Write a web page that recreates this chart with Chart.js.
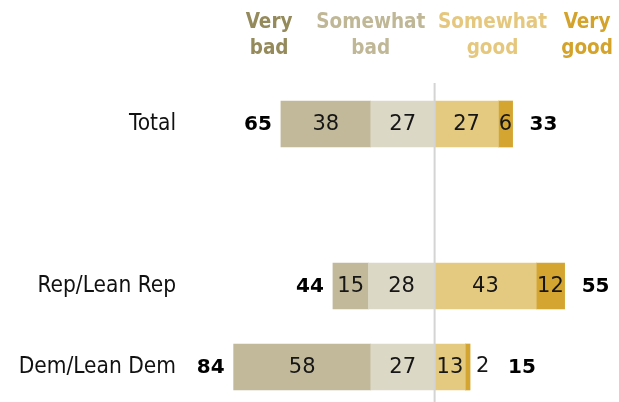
<!DOCTYPE html>
<html lang="en">
<head>
  <meta charset="UTF-8">
  <title>Economic ratings by party</title>
  <script src="https://cdn.jsdelivr.net/npm/chart.js"></script>
  <style>
    body { margin: 0; background: #fff; }
    .chart-container { width: 619px; height: 402px; position: relative; }
  </style>
</head>
<body>
  <div class="chart-container">
    <canvas id="ratingChart"></canvas>
  </div>

  <script>
    // categories (blank row = spacer between Total and party rows)
    const categories = ['Total', '', 'Rep/Lean Rep', 'Dem/Lean Dem'];
    const veryBad = [38, null, 15, 58];
    const somewhatBad = [27, null, 28, 27];
    const somewhatGood = [27, null, 43, 13];
    const veryGood = [6, null, 12, 2];
    const netBad = [65, null, 44, 84];
    const netGood = [33, null, 55, 15];
    const headerLabels = [['Very', 'bad'], ['Somewhat', 'bad'], ['Somewhat', 'good'], ['Very', 'good']];

    const neg = arr => arr.map(v => v == null ? null : -v);

    const FONT = '"DejaVu Sans Condensed", "DejaVu Sans", sans-serif';

    // header anchors in axis units, with their colours
    const headers = [
      { lines: headerLabels[0], at: -70, color: '#958a5b' },
      { lines: headerLabels[1], at: -27, color: '#bfb796' },
      { lines: headerLabels[2], at: 24.5, color: '#e5c77d' },
      { lines: headerLabels[3], at: 64.5, color: '#d4a32b' }
    ];

    const labelPlugin = {
      id: 'barLabels',
      afterDatasetsDraw(chart) {
        const ctx = chart.ctx;
        const xs = chart.scales.x;
        const zero = xs.getPixelForValue(0);
        ctx.save();

        // centre divider
        ctx.strokeStyle = '#d4d4d4';
        ctx.lineWidth = 2;
        ctx.beginPath();
        ctx.moveTo(zero, chart.chartArea.top - 41);
        ctx.lineTo(zero, chart.height);
        ctx.stroke();

        // segment values
        ctx.font = '21px "DejaVu Sans", sans-serif';
        ctx.fillStyle = '#161616';
        ctx.textBaseline = 'middle';
        const raw = [somewhatBad, veryBad, somewhatGood, veryGood];
        chart.data.datasets.forEach((ds, i) => {
          chart.getDatasetMeta(i).data.forEach((bar, j) => {
            const v = raw[i][j];
            if (v == null) return;
            if (v < 4) {
              ctx.textAlign = 'left';
              ctx.fillText(v, Math.max(bar.x, bar.base) + 6, bar.y);
            } else {
              ctx.textAlign = 'center';
              ctx.fillText(v, (bar.x + bar.base) / 2, bar.y + 1);
            }
          });
        });

        // net totals
        ctx.font = 'bold 20px "DejaVu Sans", sans-serif';
        ctx.fillStyle = '#000';
        const leftMeta = chart.getDatasetMeta(1).data;
        const rightMeta = chart.getDatasetMeta(3).data;
        categories.forEach((c, j) => {
          if (netBad[j] == null) return;
          ctx.textAlign = 'right';
          ctx.fillText(netBad[j], leftMeta[j].x - 9, leftMeta[j].y + 1);
          ctx.textAlign = 'left';
          const extra = veryGood[j] < 4 ? 21 : 0;
          ctx.fillText(netGood[j], rightMeta[j].x + 17 + extra, rightMeta[j].y + 1);
        });

        // column headers
        ctx.font = 'bold 20.5px ' + FONT;
        ctx.textAlign = 'center';
        headers.forEach(h => {
          ctx.fillStyle = h.color;
          const x = xs.getPixelForValue(h.at);
          ctx.fillText(h.lines[0], x, 23);
          ctx.fillText(h.lines[1], x, 49);
        });
        ctx.restore();
      }
    };

    new Chart(document.getElementById('ratingChart').getContext('2d'), {
      type: 'bar',
      data: {
        labels: categories,
        datasets: [
          { label: 'Somewhat bad', data: neg(somewhatBad), backgroundColor: '#dcd8c6' },
          { label: 'Very bad', data: neg(veryBad), backgroundColor: '#c2b99b' },
          { label: 'Somewhat good', data: somewhatGood, backgroundColor: '#e3ca80' },
          { label: 'Very good', data: veryGood, backgroundColor: '#d4a530' }
        ]
      },
      options: {
        indexAxis: 'y',
        responsive: true,
        maintainAspectRatio: false,
        animation: false,
        layout: { padding: { top: 124, bottom: 35, left: 0, right: 0 } },
        datasets: { bar: { barThickness: 46, clip: false, borderWidth: 0 } },
        plugins: { legend: { display: false }, tooltip: { enabled: false } },
        scales: {
          x: { stacked: true, display: false, min: -106, max: 78 },
          y: {
            stacked: true,
            offset: false,
            grid: { display: false, drawTicks: false },
            border: { display: false },
            ticks: { font: { family: FONT, size: 22.5 }, color: '#111', padding: 8 },
            afterFit: s => { s.width = 184; }
          }
        }
      },
      plugins: [labelPlugin]
    });
  </script>
</body>
</html>
